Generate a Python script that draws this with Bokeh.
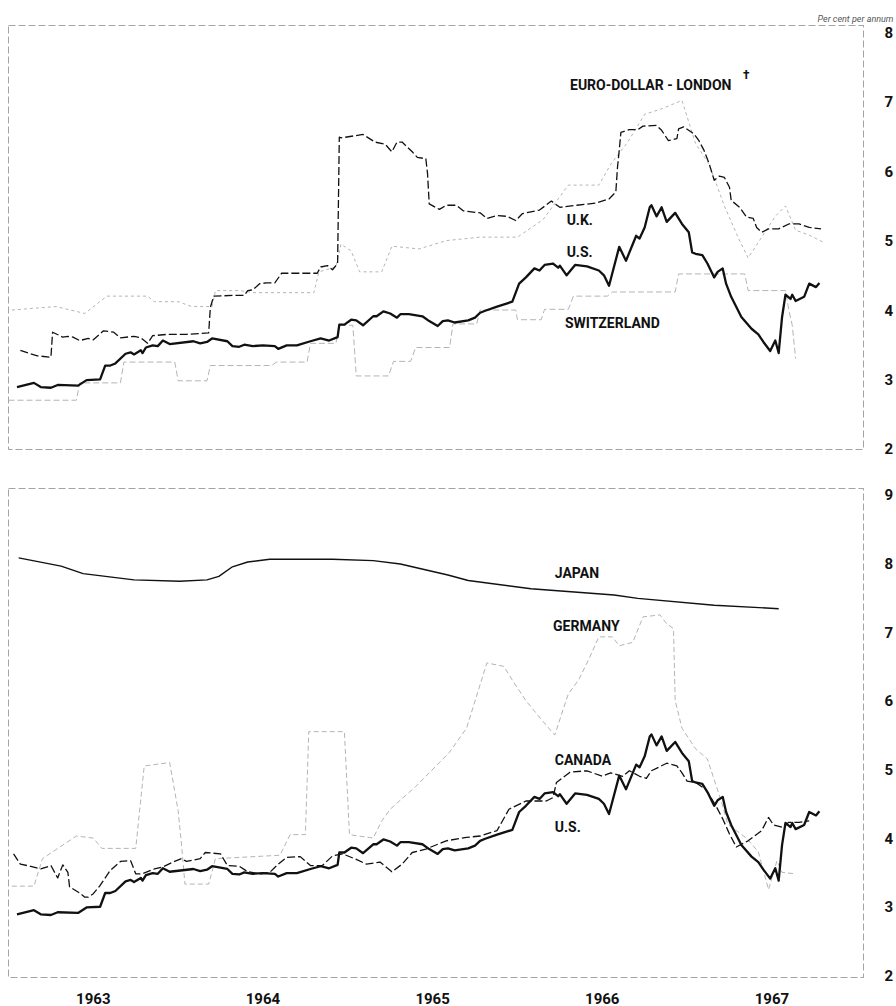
from bokeh.plotting import figure
from bokeh.models import Range1d, FixedTicker, Label
from bokeh.layouts import column
from bokeh.embed import file_html
from bokeh.resources import INLINE

# ---------------- data (per cent per annum, time in decimal years) ----------------
# U.S. treasury bills (drawn in both panels)
us_t = [1963.05, 1963.15, 1963.19, 1963.25, 1963.29, 1963.41, 1963.46, 1963.54, 1963.57, 1963.60,
        1963.63, 1963.69, 1963.72, 1963.74, 1963.78, 1963.79, 1963.81, 1963.85, 1963.88, 1963.91,
        1963.95, 1964.09, 1964.13, 1964.17, 1964.20, 1964.29, 1964.32, 1964.36, 1964.39, 1964.44,
        1964.50, 1964.57, 1964.59, 1964.64, 1964.70, 1964.78, 1964.84, 1964.89, 1964.94, 1964.95,
        1964.98, 1965.02, 1965.05, 1965.09, 1965.15, 1965.17, 1965.21, 1965.25, 1965.29, 1965.31,
        1965.36, 1965.44, 1965.48, 1965.53, 1965.56, 1965.59, 1965.63, 1965.71, 1965.75, 1965.78,
        1965.81, 1965.88, 1965.97, 1966.01, 1966.05, 1966.10, 1966.13, 1966.16, 1966.21, 1966.24,
        1966.25, 1966.29, 1966.34, 1966.41, 1966.48, 1966.51, 1966.54, 1966.60, 1966.64, 1966.70,
        1966.72, 1966.75, 1966.78, 1966.79, 1966.82, 1966.85, 1966.88, 1966.93, 1966.97, 1967.01,
        1967.03, 1967.05, 1967.09, 1967.12, 1967.16, 1967.18, 1967.21, 1967.23, 1967.26, 1967.32,
        1967.38, 1967.42, 1967.45, 1967.49, 1967.52, 1967.54, 1967.56, 1967.58, 1967.61, 1967.62,
        1967.64, 1967.69, 1967.72, 1967.76, 1967.78]
us_v = [2.89, 2.95, 2.89, 2.88, 2.92, 2.91, 2.99, 3.00, 3.20, 3.20,
        3.23, 3.37, 3.39, 3.36, 3.42, 3.38, 3.46, 3.49, 3.48, 3.56,
        3.51, 3.55, 3.52, 3.54, 3.59, 3.55, 3.48, 3.47, 3.50, 3.48,
        3.49, 3.48, 3.44, 3.49, 3.49, 3.55, 3.59, 3.56, 3.61, 3.79,
        3.79, 3.86, 3.85, 3.78, 3.91, 3.91, 3.98, 3.95, 3.89, 3.94,
        3.94, 3.91, 3.84, 3.77, 3.84, 3.85, 3.82, 3.85, 3.89, 3.96,
        3.99, 4.05, 4.12, 4.38, 4.47, 4.60, 4.57, 4.65, 4.67, 4.61,
        4.64, 4.50, 4.65, 4.63, 4.57, 4.50, 4.35, 4.91, 4.71, 5.07,
        5.03, 5.19, 5.48, 5.51, 5.35, 5.48, 5.27, 5.40, 5.24, 5.12,
        4.83, 4.81, 4.79, 4.67, 4.47, 4.55, 4.60, 4.38, 4.19, 3.90,
        3.73, 3.65, 3.54, 3.41, 3.56, 3.38, 3.90, 4.22, 4.16, 4.22,
        4.13, 4.19, 4.38, 4.33, 4.39]

# U.K. treasury bills
uk_t = [1963.07, 1963.13, 1963.17, 1963.25, 1963.26, 1963.32, 1963.35, 1963.38, 1963.42, 1963.47,
        1963.50, 1963.56, 1963.62, 1963.66, 1963.74, 1963.78, 1963.82, 1963.85, 1963.94, 1964.05,
        1964.18, 1964.19, 1964.21, 1964.32, 1964.39, 1964.41, 1964.44, 1964.48, 1964.52, 1964.57,
        1964.61, 1964.82, 1964.84, 1964.88, 1964.91, 1964.94, 1964.95, 1964.96, 1965.09, 1965.16,
        1965.22, 1965.26, 1965.29, 1965.32, 1965.38, 1965.41, 1965.46, 1965.47, 1965.48, 1965.54,
        1965.58, 1965.64, 1965.68, 1965.78, 1965.82, 1965.88, 1965.94, 1965.99, 1966.03, 1966.13,
        1966.20, 1966.25, 1966.35, 1966.46, 1966.54, 1966.58, 1966.59, 1966.60, 1966.61, 1966.66,
        1966.71, 1966.74, 1966.82, 1966.85, 1966.89, 1966.94, 1966.95, 1966.98, 1967.04, 1967.07,
        1967.10, 1967.13, 1967.16, 1967.19, 1967.22, 1967.25, 1967.26, 1967.31, 1967.35, 1967.39,
        1967.41, 1967.44, 1967.48, 1967.54, 1967.60, 1967.66, 1967.72, 1967.79]
uk_v = [3.42, 3.37, 3.34, 3.32, 3.68, 3.61, 3.62, 3.61, 3.56, 3.59,
        3.57, 3.70, 3.68, 3.60, 3.62, 3.60, 3.52, 3.63, 3.65, 3.65,
        3.67, 4.04, 4.20, 4.21, 4.21, 4.28, 4.29, 4.38, 4.39, 4.39,
        4.53, 4.53, 4.62, 4.64, 4.58, 4.67, 6.49, 6.48, 6.53, 6.42,
        6.39, 6.28, 6.42, 6.42, 6.28, 6.20, 6.18, 5.97, 5.53, 5.45,
        5.51, 5.51, 5.43, 5.40, 5.32, 5.36, 5.35, 5.29, 5.39, 5.44,
        5.57, 5.48, 5.51, 5.54, 5.60, 5.70, 6.06, 6.30, 6.56, 6.60,
        6.60, 6.65, 6.66, 6.59, 6.44, 6.47, 6.61, 6.64, 6.54, 6.44,
        6.30, 6.11, 5.87, 5.93, 5.91, 5.77, 5.58, 5.48, 5.34, 5.32,
        5.19, 5.12, 5.17, 5.17, 5.24, 5.24, 5.19, 5.17]

# Euro-dollar deposits, London
euro_t = [1963.02, 1963.28, 1963.45, 1963.58, 1963.82, 1963.86, 1964.00, 1964.08, 1964.20, 1964.22,
          1964.36, 1964.45, 1964.80, 1964.83, 1964.93, 1964.96, 1965.02, 1965.07, 1965.20, 1965.26,
          1965.42, 1965.58, 1965.78, 1966.00, 1966.15, 1966.30, 1966.48, 1966.55, 1966.65, 1966.75,
          1966.85, 1966.97, 1967.05, 1967.13, 1967.22, 1967.30, 1967.36, 1967.44, 1967.52, 1967.58,
          1967.64, 1967.72, 1967.80]
euro_v = [4.00, 4.05, 3.95, 4.20, 4.20, 4.12, 4.12, 4.05, 4.05, 4.28,
          4.28, 4.25, 4.25, 4.55, 4.62, 4.95, 4.85, 4.55, 4.55, 4.92,
          4.88, 5.00, 5.05, 5.05, 5.30, 5.80, 5.80, 6.10, 6.42, 6.82,
          6.90, 7.02, 6.40, 6.10, 5.50, 5.05, 4.75, 5.05, 5.35, 5.50,
          5.15, 5.08, 4.98]

# Switzerland
swiss_t = [1963.00, 1963.40, 1963.42, 1963.66, 1963.68, 1963.98, 1964.00, 1964.17, 1964.19, 1964.55,
           1964.58, 1964.76, 1964.78, 1964.93, 1964.95, 1965.03, 1965.05, 1965.24, 1965.27, 1965.37,
           1965.40, 1965.60, 1965.62, 1965.76, 1965.78, 1965.99, 1966.00, 1966.14, 1966.16, 1966.30,
           1966.33, 1966.53, 1966.56, 1966.93, 1966.95, 1967.34, 1967.36, 1967.58, 1967.60, 1967.62,
           1967.64]
swiss_v = [2.70, 2.70, 2.95, 2.95, 3.25, 3.25, 2.98, 2.98, 3.20, 3.20,
           3.25, 3.25, 3.52, 3.52, 3.78, 3.78, 3.05, 3.05, 3.26, 3.26,
           3.46, 3.46, 3.80, 3.80, 4.00, 4.00, 3.86, 3.86, 4.01, 4.01,
           4.20, 4.20, 4.26, 4.26, 4.52, 4.52, 4.28, 4.28, 4.00, 3.78,
           3.30]

# Japan
japan_t = [1963.06, 1963.31, 1963.44, 1963.74, 1964.01, 1964.17, 1964.24, 1964.32, 1964.41, 1964.54,
           1964.91, 1965.15, 1965.31, 1965.59, 1965.71, 1966.08, 1966.57, 1966.71, 1967.16, 1967.54]
japan_v = [8.08, 7.96, 7.85, 7.76, 7.74, 7.76, 7.81, 7.95, 8.02, 8.06,
           8.06, 8.04, 7.99, 7.83, 7.75, 7.63, 7.54, 7.49, 7.39, 7.34]

# Germany
germany_t = [1963.02, 1963.15, 1963.20, 1963.40, 1963.50, 1963.55, 1963.75, 1963.80, 1963.95, 1964.00,
             1964.02, 1964.04, 1964.18, 1964.22, 1964.60, 1964.66, 1964.75, 1964.77, 1964.98, 1965.01,
             1965.15, 1965.20, 1965.25, 1965.40, 1965.52, 1965.60, 1965.70, 1965.82, 1965.92, 1965.97,
             1966.05, 1966.15, 1966.22, 1966.30, 1966.36, 1966.42, 1966.48, 1966.56, 1966.60, 1966.68,
             1966.74, 1966.84, 1966.88, 1966.92, 1966.93, 1966.97, 1967.05, 1967.12, 1967.20, 1967.24,
             1967.35, 1967.42, 1967.48, 1967.53, 1967.56, 1967.64]
germany_v = [3.30, 3.30, 3.70, 4.03, 4.00, 3.85, 3.85, 5.05, 5.10, 4.40,
             3.90, 3.33, 3.33, 3.70, 3.75, 4.05, 4.05, 5.55, 5.55, 4.05,
             4.00, 4.25, 4.42, 4.75, 5.05, 5.25, 5.60, 6.55, 6.50, 6.30,
             6.00, 5.70, 5.50, 6.10, 6.30, 6.60, 6.93, 6.93, 6.80, 6.85,
             7.22, 7.25, 7.12, 7.05, 6.00, 5.60, 5.30, 5.15, 4.55, 4.20,
             4.00, 3.80, 3.25, 3.67, 3.50, 3.48]

# Canada
canada_t = [1963.03, 1963.07, 1963.11, 1963.19, 1963.25, 1963.29, 1963.32, 1963.35, 1963.36, 1963.42,
            1963.45, 1963.47, 1963.50, 1963.54, 1963.60, 1963.66, 1963.72, 1963.75, 1963.79, 1963.86,
            1963.91, 1963.97, 1964.02, 1964.05, 1964.13, 1964.16, 1964.25, 1964.29, 1964.36, 1964.41,
            1964.48, 1964.54, 1964.59, 1964.64, 1964.72, 1964.78, 1964.85, 1964.91, 1964.97, 1965.05,
            1965.11, 1965.19, 1965.26, 1965.32, 1965.38, 1965.46, 1965.58, 1965.70, 1965.78, 1965.88,
            1965.95, 1966.05, 1966.17, 1966.21, 1966.23, 1966.31, 1966.41, 1966.50, 1966.55, 1966.62,
            1966.66, 1966.72, 1966.76, 1966.79, 1966.88, 1966.94, 1966.97, 1967.00, 1967.05, 1967.11,
            1967.17, 1967.21, 1967.25, 1967.29, 1967.36, 1967.44, 1967.48, 1967.51, 1967.56, 1967.60,
            1967.66, 1967.72]
canada_v = [3.77, 3.62, 3.60, 3.55, 3.60, 3.42, 3.61, 3.50, 3.29, 3.20,
            3.14, 3.14, 3.19, 3.31, 3.53, 3.66, 3.67, 3.48, 3.48, 3.55,
            3.58, 3.65, 3.70, 3.66, 3.70, 3.79, 3.77, 3.60, 3.59, 3.51,
            3.48, 3.50, 3.62, 3.72, 3.73, 3.60, 3.60, 3.74, 3.77, 3.69,
            3.62, 3.65, 3.51, 3.62, 3.79, 3.84, 3.96, 4.01, 4.03, 4.11,
            4.42, 4.54, 4.54, 4.59, 4.81, 4.96, 4.98, 4.90, 4.95, 4.90,
            4.98, 4.90, 4.87, 4.98, 5.09, 5.05, 4.95, 4.83, 4.81, 4.71,
            4.47, 4.28, 4.06, 3.87, 3.96, 4.11, 4.30, 4.19, 4.16, 4.23,
            4.23, 4.25]

year_ticks = [1963.5, 1964.5, 1965.5, 1966.5, 1967.5]
year_labels = ["1963", "1964", "1965", "1966", "1967"]
top_ticks = [2, 3, 4, 5, 6, 7, 8]
bottom_ticks = [2, 3, 4, 5, 6, 7, 8, 9]

FONT = "Roboto"
INK = "#111111"
FAINT = "#b4b4b4"


def make_panel(height, y_lo, y_hi, ticks, border_top, border_bottom, with_years):
    p = figure(width=896, height=height, output_backend="svg", toolbar_location=None,
               x_range=Range1d(1963.0, 1968.04), y_range=Range1d(y_lo, y_hi),
               y_axis_location="right",
               x_axis_location="below" if with_years else None,
               min_border_left=8, min_border_right=31,
               min_border_top=border_top, min_border_bottom=border_bottom)
    p.grid.visible = False
    p.background_fill_color = "white"
    p.border_fill_color = "white"
    p.outline_line_color = "#4a4a4a"
    p.outline_line_dash = "7 3"
    p.outline_line_alpha = 0.5
    p.outline_line_width = 1

    ya = p.yaxis[0]
    ya.ticker = FixedTicker(ticks=ticks)
    ya.axis_line_color = None
    ya.major_tick_line_color = None
    ya.minor_tick_line_color = None
    ya.major_label_standoff = 15
    ya.major_label_text_font = FONT
    ya.major_label_text_font_style = "bold"
    ya.major_label_text_font_size = "15px"
    ya.major_label_text_color = INK

    if with_years:
        xa = p.xaxis[0]
        xa.ticker = FixedTicker(ticks=year_ticks)
        xa.major_label_overrides = {t: s for t, s in zip(year_ticks, year_labels)}
        xa.axis_line_color = None
        xa.major_tick_line_color = None
        xa.minor_tick_line_color = None
        xa.major_label_standoff = 9
        xa.major_label_text_font = FONT
        xa.major_label_text_font_style = "bold"
        xa.major_label_text_font_size = "15px"
        xa.major_label_text_color = INK
    return p


def tag(p, x, y, text, size="14px"):
    p.add_layout(Label(x=x, y=y, text=text, text_font=FONT, text_font_style="bold",
                       text_font_size=size, text_color=INK,
                       text_align="left", text_baseline="middle"))


# ---------------- upper panel: U.K., Euro-dollar, Switzerland, U.S. ----------------
top = make_panel(460, 1.99, 8.10, top_ticks, 25, 11, False)
top.title.text = "Per cent per annum"
top.title.align = "right"
top.title.offset = -30
top.title.standoff = 4
top.title.text_font = FONT
top.title.text_font_size = "9px"
top.title.text_font_style = "italic"
top.title.text_color = "#555555"

top.line(euro_t, euro_v, line_color=FAINT, line_width=1.0, line_dash="3 3")
top.line(swiss_t, swiss_v, line_color=FAINT, line_width=1.0, line_dash="6 3")
top.line(uk_t, uk_v, line_color=INK, line_width=1.3, line_dash="8 3", line_join="round")
top.line(us_t, us_v, line_color=INK, line_width=2.3, line_join="round")

tag(top, 1966.31, 7.24, "EURO-DOLLAR - LONDON")
tag(top, 1967.33, 7.38, "†", size="12px")
tag(top, 1966.29, 5.29, "U.K.")
tag(top, 1966.29, 4.83, "U.S.")
tag(top, 1966.28, 3.82, "SWITZERLAND")

# ---------------- lower panel: Japan, Germany, Canada, U.S. ----------------
bottom = make_panel(546, 1.97, 9.09, bottom_ticks, 28, 27, True)
bottom.line(germany_t, germany_v, line_color=FAINT, line_width=1.0, line_dash="5 3")
bottom.line(japan_t, japan_v, line_color=INK, line_width=1.4, line_join="round")
bottom.line(canada_t, canada_v, line_color=INK, line_width=1.3, line_dash="8 3", line_join="round")
bottom.line(us_t, us_v, line_color=INK, line_width=2.3, line_join="round")

tag(bottom, 1966.22, 7.86, "JAPAN")
tag(bottom, 1966.21, 7.09, "GERMANY")
tag(bottom, 1966.22, 5.14, "CANADA")
tag(bottom, 1966.22, 4.16, "U.S.")

page = column(top, bottom, spacing=0)
open("out.html", "w").write(file_html(page, INLINE))
